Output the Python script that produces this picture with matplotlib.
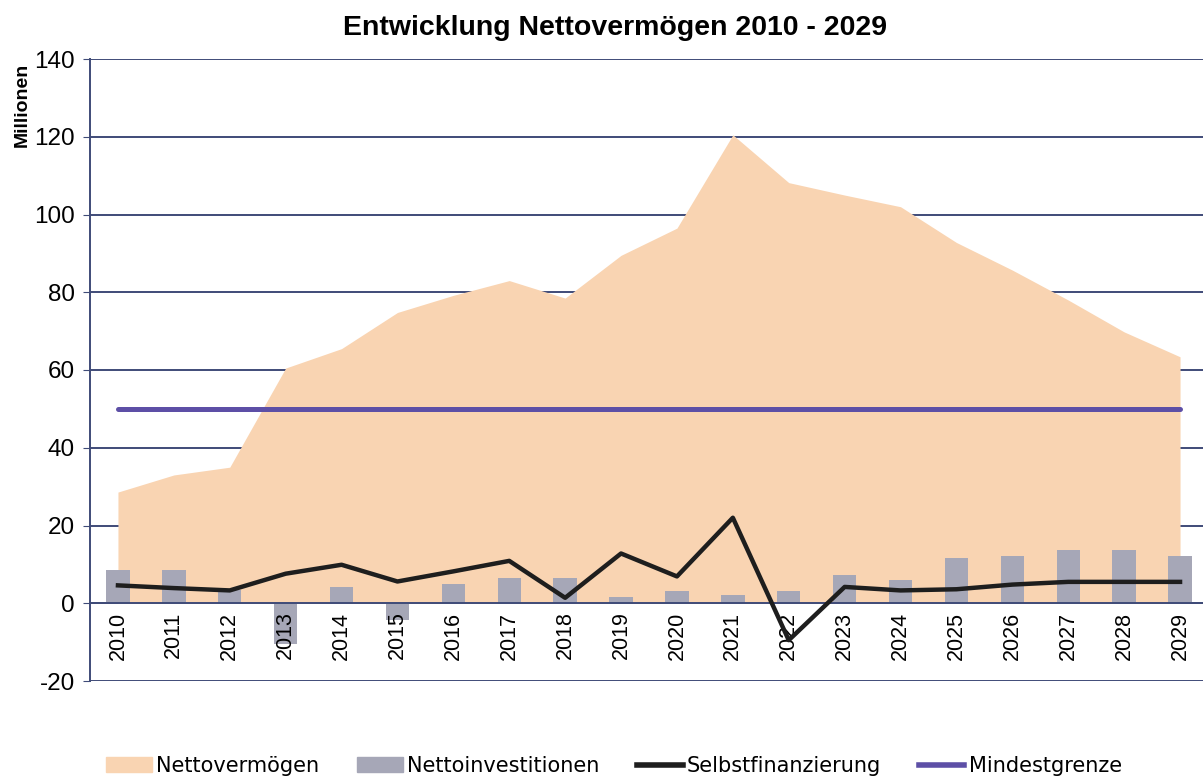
import numpy as np
import matplotlib
matplotlib.use("Agg")
import matplotlib.pyplot as plt

# data (Millionen)
years = [str(y) for y in range(2010, 2030)]
nettovermoegen = [28.6, 33.0, 35.0, 60.5, 65.5, 74.8, 79.2, 83.0, 78.5, 89.5,
                  96.5, 120.5, 108.2, 105.0, 102.0, 92.8, 85.7, 78.0, 69.8, 63.4]
nettoinvestitionen = [8.6, 8.6, 3.3, -10.4, 4.2, -4.2, 4.9, 6.4, 6.4, 1.6,
                      3.2, 2.0, 3.2, 7.2, 6.0, 11.7, 12.2, 13.8, 13.8, 12.2]
selbstfinanzierung = [4.6, 3.9, 3.3, 7.6, 9.9, 5.6, 8.2, 10.9, 1.4, 12.8,
                      6.9, 22.0, -9.5, 4.2, 3.3, 3.6, 4.8, 5.5, 5.5, 5.5]
mindestgrenze = [50] * len(years)
y_ticks = [-20, 0, 20, 40, 60, 80, 100, 120, 140]

grid_col = "#3f4b78"

fig = plt.figure(figsize=(12.03, 7.81), dpi=100)
ax = fig.add_axes([90 / 1203, 1 - 681 / 781, 1118 / 1203, 622 / 781])
x = np.arange(len(years))

# gridlines behind the area, tick labels stay on top of the bars
for v in y_ticks:
    ax.axhline(v, color=grid_col, lw=1.4, zorder=0.5)
ax.fill_between(x, 0, nettovermoegen, color="#f9d4b2", lw=0, zorder=1)
ax.bar(x, nettoinvestitionen, width=0.42, color="#a6a7b7", zorder=2)
ax.plot(x, selbstfinanzierung, color="#1e1e1e", lw=3.2, zorder=3)
ax.plot(x, mindestgrenze, color="#5d4fa6", lw=3.6, solid_capstyle="round", zorder=3)
ax.set_axisbelow(False)

ax.set_xlim(-0.5, len(years) - 0.5)
ax.set_ylim(-20, 140)
ax.set_yticks(y_ticks)
ax.set_yticklabels([str(v) for v in y_ticks], fontsize=17.5, family="Liberation Sans")

# x axis sits on the zero line, labels below it
ax.spines["bottom"].set_position(("data", 0))
ax.spines["bottom"].set_color(grid_col)
ax.spines["bottom"].set_linewidth(1.4)
ax.spines["left"].set_color(grid_col)
ax.spines["left"].set_linewidth(1.4)
ax.spines["top"].set_visible(False)
ax.spines["right"].set_visible(False)
ax.set_xticks(x)
ax.set_xticklabels(years, rotation=90, fontsize=15.5, family="Liberation Sans")
ax.tick_params(axis="x", length=0, pad=6)
ax.tick_params(axis="y", length=5, color=grid_col, pad=6)

fig.text(615 / 1203, 1 - 28 / 781, "Entwicklung Nettovermögen 2010 - 2029",
         ha="center", va="center", fontsize=20.5, fontweight="bold", family="Liberation Sans")
fig.text(22 / 1203, 1 - 105 / 781, "Millionen", rotation=90, ha="center", va="center",
         fontsize=14, fontweight="bold", family="Liberation Sans")

# legend like the excel one
handles = [
    plt.Rectangle((0, 0), 1, 1, color="#f9d4b2"),
    plt.Rectangle((0, 0), 1, 1, color="#a6a7b7"),
    plt.Line2D([], [], color="#1e1e1e", lw=4),
    plt.Line2D([], [], color="#5d4fa6", lw=4),
]
labels = ["Nettovermögen", "Nettoinvestitionen", "Selbstfinanzierung", "Mindestgrenze"]
fig.legend(handles, labels, loc="center", bbox_to_anchor=(614 / 1203, 1 - 766 / 781), ncol=4,
           frameon=False, prop={"family": ["Liberation Sans Narrow", "DejaVu Sans"], "size": 15},
           handlelength=2.2, handletextpad=0.2, columnspacing=1.8)

fig.savefig("out.png", dpi=100)
plt.close()
